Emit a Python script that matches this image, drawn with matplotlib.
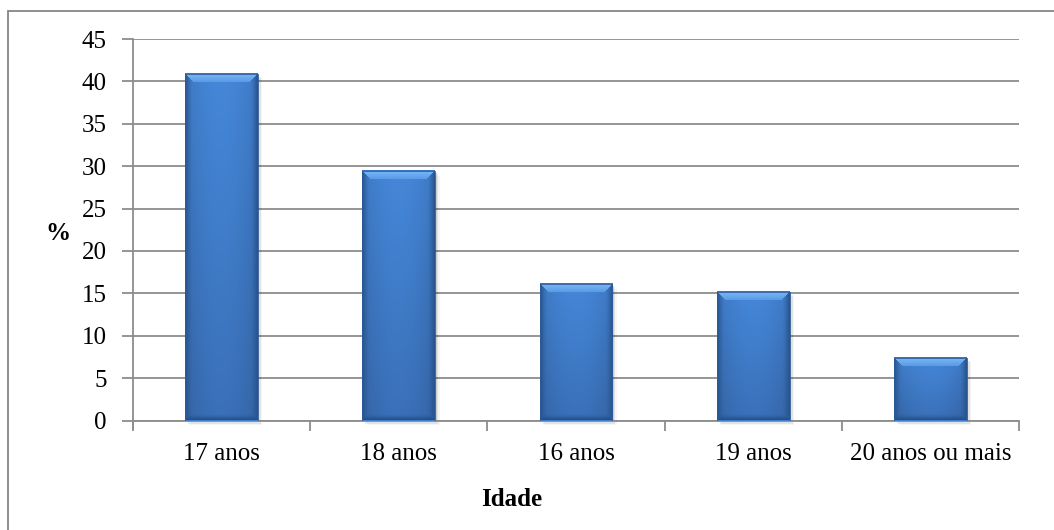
import numpy as np
import matplotlib
matplotlib.use("Agg")
import matplotlib.pyplot as plt
import matplotlib.patches as mpatches
from matplotlib.ticker import FixedLocator, MultipleLocator

# Age distribution (%)
categories = ["17 anos", "18 anos", "16 anos", "19 anos", "20 anos ou mais"]
values = [40.9, 29.4, 16.1, 15.2, 7.4]

plt.rcParams["font.family"] = ["Liberation Serif", "DejaVu Serif"]

W, H = 1054, 530
fig = plt.figure(figsize=(W / 100, H / 100), dpi=100)
fig.patch.set_facecolor("white")

# outer chart frame (cut at right and bottom)
fig.add_artist(mpatches.Rectangle((7.5 / W, -0.05), 1.2, 1 - 10.5 / H + 0.05,
                                  transform=fig.transFigure, fill=False,
                                  edgecolor="#868686", linewidth=1.3))

ax = fig.add_axes([133 / W, 1 - 420.5 / H, (1019 - 133) / W, (420.5 - 39) / H])
grid_col = "#8c8c8c"
fs = 18

x = np.arange(len(categories))
bar_w = 0.41
bars = ax.bar(x, values, width=bar_w, color="#3f7fd0", zorder=3)

ax.set_xlim(-0.5, len(categories) - 0.5)
ax.set_ylim(0, 45)
ax.yaxis.set_major_locator(MultipleLocator(5))
ax.grid(axis="y", color=grid_col, linewidth=1.3, zorder=0)
ax.set_axisbelow(True)

for s in ["top", "right"]:
    ax.spines[s].set_visible(False)
ax.spines["left"].set_color(grid_col)
ax.spines["left"].set_linewidth(1.3)
ax.spines["left"].set_bounds(-0.9, 45)
ax.spines["bottom"].set_color(grid_col)
ax.spines["bottom"].set_linewidth(1.3)

# category labels at bar centres, tick marks at the boundaries
ax.xaxis.set_major_locator(FixedLocator(np.arange(len(categories) + 1) - 0.5))
ax.xaxis.set_minor_locator(FixedLocator(x))
ax.set_xticklabels([])
ax.set_xticklabels(categories, minor=True)
ax.tick_params(axis="x", which="major", length=7, width=1.3, color=grid_col, direction="out")
ax.tick_params(axis="x", which="minor", length=0, pad=16, labelsize=fs)
ax.tick_params(axis="y", length=8, width=1.3, color=grid_col, pad=11, labelsize=fs)

ax.set_xlabel("Idade", fontsize=fs, fontweight="bold", va="center", ha="center")
ax.xaxis.set_label_coords(0.427, -0.208)
ax.set_ylabel("%", fontsize=fs, fontweight="bold", rotation=0, va="center", ha="center")
ax.yaxis.set_label_coords(-0.085, 0.49)


def hex_rgb(h):
    h = h.lstrip("#")
    return np.array([int(h[i:i + 2], 16) / 255 for i in (0, 2, 4)])


body_top = hex_rgb("#4587d9")
body_bot = hex_rgb("#3a70b8")
top_lo = hex_rgb("#5798e6")
top_hi = hex_rgb("#7cbaf5")
side_c = hex_rgb("#28548f")
bot_c = hex_rgb("#26508a")

px_per_unit = (420.5 - 39) / 45.0
px_per_cat = (1019 - 133) / 5.0
for b in bars:
    x0, w, h = b.get_x(), b.get_width(), b.get_height()
    ncol = int(round(w * px_per_cat))
    nrow = max(int(round(h * px_per_unit)), 2)
    rr, cc = np.mgrid[0:nrow, 0:ncol]
    dt = rr.astype(float)
    db = (nrow - 1 - rr).astype(float)
    ds = np.minimum(cc, ncol - 1 - cc).astype(float)

    fv = (rr / max(nrow - 1, 1))[..., None]
    fh = (np.abs(cc - (ncol - 1) / 2) / ((ncol - 1) / 2))[..., None]
    img = body_top * (1 - fv) + body_bot * fv
    img = img * (1 - 0.12 * fh ** 2)

    # side bevels
    sb = 7
    side = (ds < sb) & (ds < dt)
    k = (1 - ds / sb)[..., None] ** 1.5
    img = np.where(side[..., None], img * (1 - k) + side_c * k, img)
    # bottom bevel
    bb = 6
    bot = (db < bb) & (db < ds)
    k = (1 - db / bb)[..., None] ** 1.5
    img = np.where(bot[..., None], img * (1 - k) + bot_c * k, img)
    # top bevel with mitred corners
    tb = 9
    top = (dt < tb) & (dt <= ds)
    k = (dt / tb)[..., None]
    img = np.where(top[..., None], top_hi * (1 - k) + top_lo * k, img)
    img[0] = hex_rgb("#3a74c4")

    # soft shadow to the right and below
    for i, a in enumerate([0.10, 0.07, 0.04]):
        off = (i + 1) * 1.5
        ax.add_patch(mpatches.Rectangle((x0 + off / px_per_cat, -off / px_per_unit), w, h,
                                        facecolor="black", alpha=a, linewidth=0, zorder=2,
                                        clip_on=False))
    ax.imshow(np.clip(img, 0, 1), extent=(x0, x0 + w, 0, h), aspect="auto",
              interpolation="bilinear", zorder=4, origin="upper")
    ax.add_patch(mpatches.Rectangle((x0, 0), w, h, fill=False, edgecolor="#2d5b9a",
                                    linewidth=0.6, zorder=5))

ax.set_xlim(-0.5, len(categories) - 0.5)
ax.set_ylim(0, 45)

fig.savefig("out.png", dpi=100, facecolor="white")
